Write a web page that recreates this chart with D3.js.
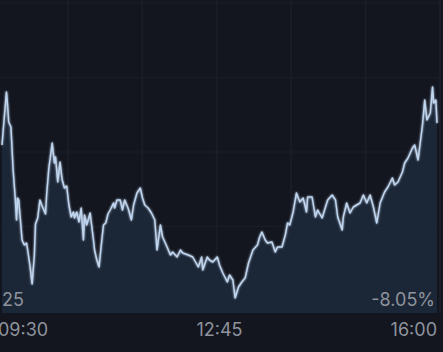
<!DOCTYPE html>
<meta charset="utf-8">
<script src="https://d3js.org/d3.v7.min.js"></script>
<style>
  body { margin: 0; background: #13161f; }
</style>
<div id="chart"></div>
<script>

// minutes since the 09:30 open
var minutes = [0,2,4,5,6,8,10,12,13,14,15,16,18,20,22,23,25,27,29,30,32,34,36,39,40,42,43,45,47,48,
  50,52,54,56,58,60,62,64,65,67,69,71,73,74,76,79,82,83,85,87,89,91,93,95,97,100,101,103,106,108,
  110,113,116,118,121,124,126,128,131,134,137,139,142,144,148,151,153,157,160,162,167,171,176,179,180,184,186,189,193,195,
  198,202,204,207,209,212,215,218,221,225,229,231,233,236,238,242,245,247,251,254,256,258,261,264,267,270,273,274,278,281,
  283,287,290,292,296,299,301,305,306,309,312,315,318,321,324,327,330,333,336,339,343,346,350,352,355,359,361,364,368,370,
  373,377,379,381,384,386,387,389,390];

// % change
var change = [-4.69,-4.15,-3.63,-3.89,-4.23,-4.33,-5.19,-5.79,-6.19,-5.75,-5.79,-6.05,-6.59,-6.69,-6.65,-6.79,-7.09,-7.47,-6.89,-6.27,
  -6.15,-5.79,-5.91,-6.07,-5.69,-5.15,-4.99,-4.65,-5.05,-4.93,-5.43,-5.03,-5.39,-5.55,-5.51,-5.89,-6.13,-6.03,-6.15,-6.03,
  -6.23,-5.95,-6.59,-6.09,-6.29,-6.05,-6.59,-6.79,-6.99,-7.13,-6.69,-6.29,-6.25,-6.07,-5.99,-5.85,-5.95,-5.79,-5.79,-5.99,
  -5.79,-5.95,-6.19,-5.89,-5.65,-5.55,-5.75,-5.89,-5.95,-6.05,-6.19,-6.79,-6.29,-6.53,-6.73,-6.89,-6.83,-6.93,-6.79,-6.85,
  -6.89,-6.93,-7.13,-6.93,-7.19,-6.93,-6.99,-7.03,-6.93,-7.09,-7.25,-7.43,-7.29,-7.39,-7.75,-7.53,-7.43,-7.35,-7.05,-6.79,
  -6.69,-6.53,-6.43,-6.59,-6.65,-6.63,-6.83,-6.73,-6.73,-6.49,-6.25,-6.29,-6.03,-5.65,-5.83,-5.75,-6.03,-5.73,-5.73,-6.13,
  -5.99,-6.15,-5.93,-5.79,-5.69,-5.79,-6.13,-6.39,-6.13,-5.85,-6.05,-5.93,-5.89,-5.85,-5.69,-5.85,-5.69,-5.93,-6.25,-5.85,
  -5.63,-5.53,-5.35,-5.49,-5.43,-5.23,-5.05,-4.95,-4.75,-4.69,-4.99,-4.29,-3.79,-4.19,-4.05,-3.53,-3.85,-3.79,-4.25];

var timeTicks = [0, 195, 390];
var timeLabels = ["09:30", "12:45", "16:00"];

var width = 443, height = 352;

var svg = d3.select("#chart")
  .append("svg")
    .attr("width", width)
    .attr("height", height)
    .style("display", "block");

svg.append("rect")
  .attr("width", width)
  .attr("height", height)
  .attr("fill", "#13161f");

var x = d3.scaleLinear().domain([0, 390]).range([2, 437]);
var y = d3.scaleLinear().domain([-8.05, -1.85]).range([313, 3]);

// faint grid
var gx = d3.scaleLinear().domain([0, 6]).range([-6.5, 440]);
svg.append("g")
  .selectAll("line")
  .data(d3.range(1, 7))
  .join("line")
    .attr("x1", function(d) { return gx(d); })
    .attr("x2", function(d) { return gx(d); })
    .attr("y1", 0)
    .attr("y2", 313)
    .attr("stroke", "#191d27")
    .attr("stroke-width", 2);

var gy = d3.scaleLinear().domain([0, 4]).range([3, 301]);
svg.append("g")
  .selectAll("line")
  .data(d3.range(0, 4))
  .join("line")
    .attr("x1", 0)
    .attr("x2", 440)
    .attr("y1", function(d) { return gy(d); })
    .attr("y2", function(d) { return gy(d); })
    .attr("stroke", "#181c25")
    .attr("stroke-width", 1.5);

var data = minutes.map(function(m, i) { return {m: m, v: change[i]}; });

// area under the line
svg.append("path")
  .datum(data)
  .attr("fill", "#1b2636")
  .attr("d", d3.area()
    .x(function(d) { return x(d.m); })
    .y0(y(-8.05))
    .y1(function(d) { return y(d.v); }));

var defs = svg.append("defs");
var glow = defs.append("filter").attr("id", "glow")
  .attr("x", "-5%").attr("y", "-5%").attr("width", "110%").attr("height", "110%");
glow.append("feGaussianBlur").attr("stdDeviation", 1.3).attr("result", "b");
var merge = glow.append("feMerge");
merge.append("feMergeNode").attr("in", "b");
merge.append("feMergeNode").attr("in", "SourceGraphic");

svg.append("path")
  .datum(data)
  .attr("fill", "none")
  .attr("stroke", "#c0d5ee")
  .attr("stroke-width", 1.5)
  .attr("stroke-linejoin", "round")
  .attr("filter", "url(#glow)")
  .attr("d", d3.line()
    .x(function(d) { return x(d.m); })
    .y(function(d) { return y(d.v); }));

var font = "Inter, Roboto, sans-serif";

svg.append("text")
  .attr("x", 2)
  .attr("y", 306)
  .attr("fill", "#8e939c")
  .style("font-family", font)
  .style("font-size", "18px")
  .text("25");

svg.append("text")
  .attr("x", 435)
  .attr("y", 306)
  .attr("text-anchor", "end")
  .attr("fill", "#8e939c")
  .style("font-family", font)
  .style("font-size", "18px")
  .text("-8.05%");

svg.append("g")
  .selectAll("text")
  .data(timeTicks)
  .join("text")
    .attr("x", function(d, i) { return i === 0 ? x(d) - 4 : x(d); })
    .attr("y", 336)
    .attr("text-anchor", function(d, i) { return ["start", "middle", "end"][i]; })
    .attr("fill", "#8e939c")
    .style("font-family", font)
    .style("font-size", "18px")
    .text(function(d, i) { return timeLabels[i]; });

</script>
